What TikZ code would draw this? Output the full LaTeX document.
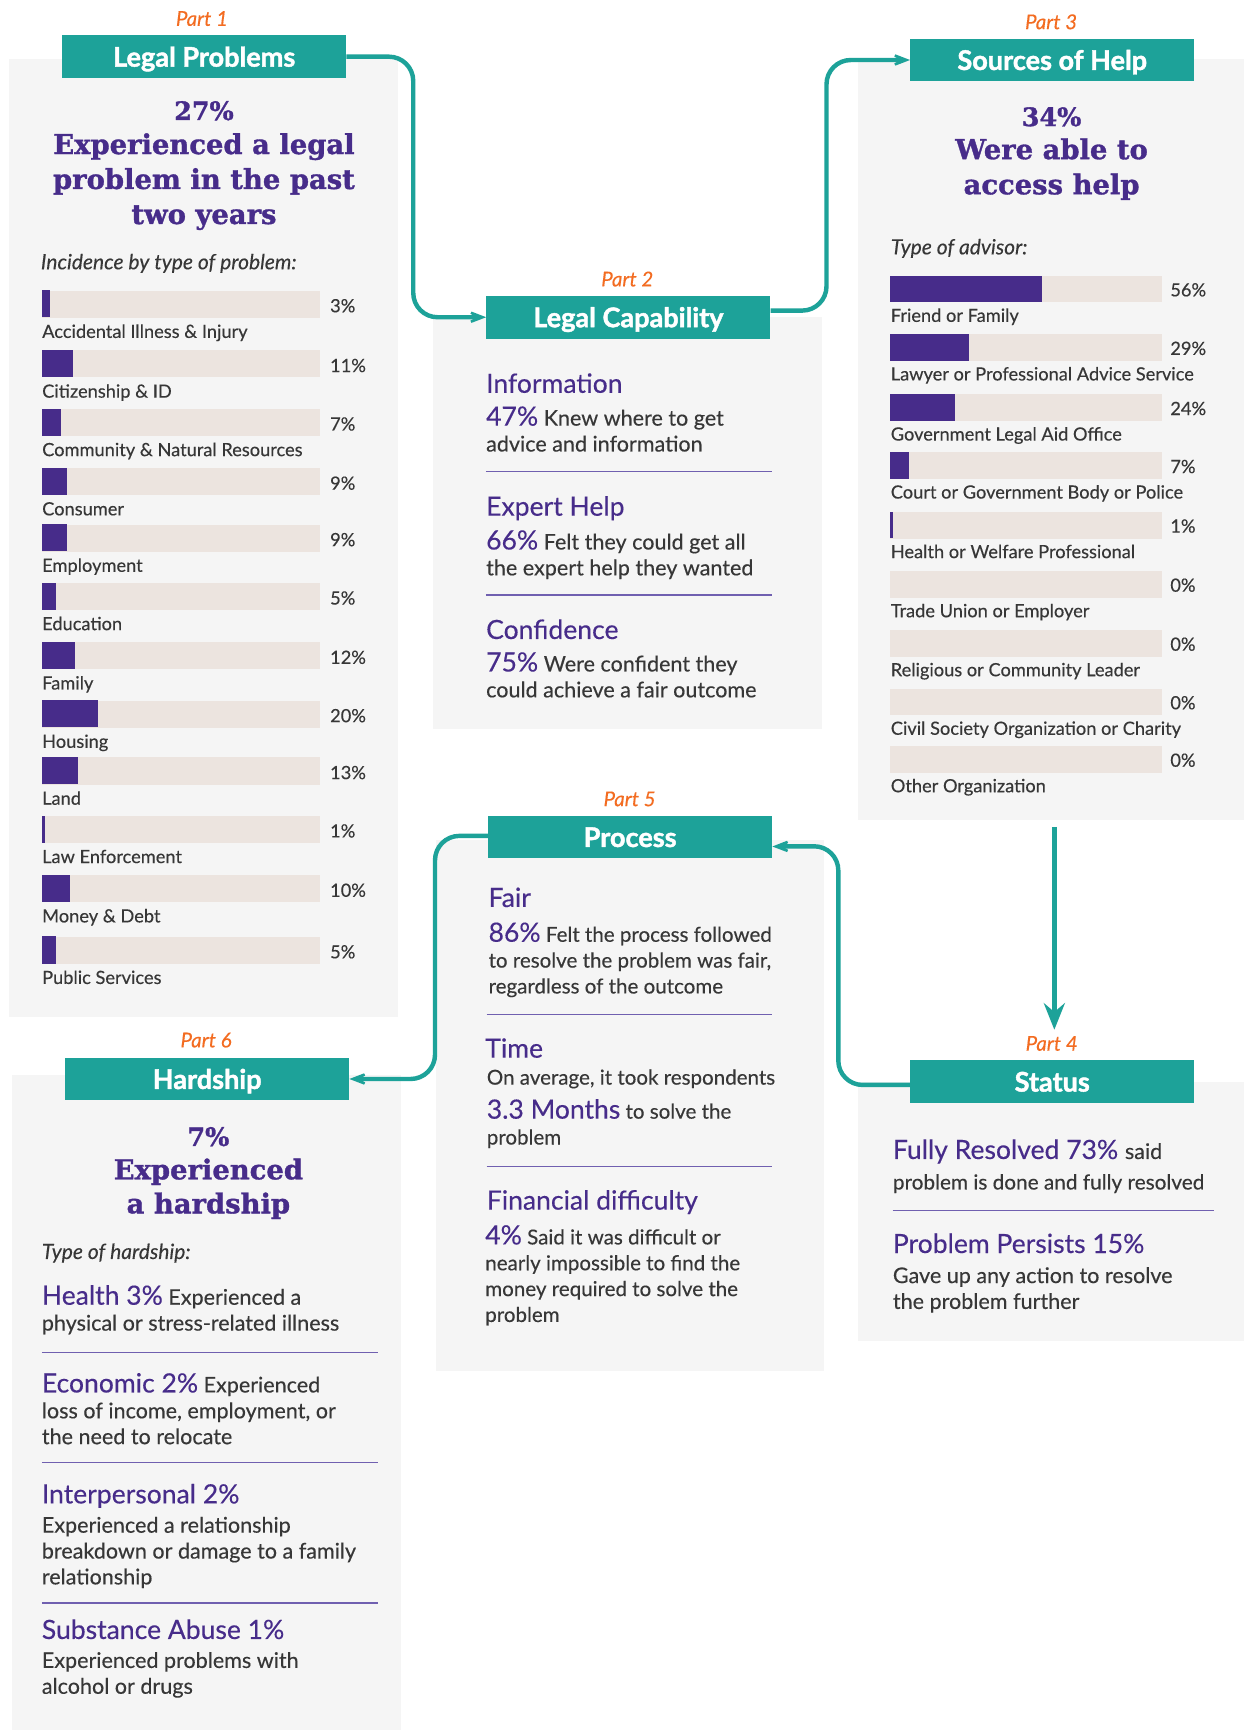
\documentclass[tikz,border=0pt]{standalone}
\usepackage{fontspec}
\setmainfont{Lato}[UprightFeatures={FakeBold=0.3},ItalicFeatures={FakeBold=0.2},BoldFeatures={FakeBold=1.6}]
\newfontfamily\slab{DejaVu Serif}[BoldFeatures={FakeBold=1.2}]
\usetikzlibrary{arrows.meta,calc}
\definecolor{cTeal}{RGB}{29,162,153}
\definecolor{cPurp}{RGB}{71,44,138}
\definecolor{cOrange}{RGB}{243,108,33}
\definecolor{cPanel}{RGB}{245,245,245}
\definecolor{cBar}{RGB}{236,228,223}
\definecolor{cDark}{RGB}{55,55,55}
\definecolor{cDiv}{RGB}{112,96,176}
\newcommand\pctx[1]{{\color{cPurp}\fontsize{24}{23.4}\selectfont #1}}
\newcommand\fstrut{\rule{0pt}{22pt}}
\begin{document}
\begin{tikzpicture}[x=1pt,y=-1pt,
  panel/.style={fill=cPanel, draw=none, anchor=north west, inner sep=0},
  hdr/.style={fill=cTeal, text=white, font=\fontsize{24.5}{24.5}\selectfont\bfseries, minimum width=257pt, minimum height=38.8pt, inner sep=0, text height=18pt, text depth=0pt, anchor=north west},
  partlbl/.style={text=cOrange, font=\fontsize{18.5}{18.5}\selectfont\itshape, inner sep=0, anchor=base},
  ttl/.style={text=cPurp, font=\slab\bfseries\fontsize{24.8}{24.8}\selectfont, inner sep=0, anchor=base},
  ttlp/.style={text=cPurp, font=\slab\bfseries\fontsize{23}{23}\selectfont, inner sep=0, anchor=base},
  sub/.style={text=cPurp, font=\fontsize{24}{24}\selectfont, inner sep=0, anchor=base west},
  body/.style={text=cDark, font=\fontsize{19.5}{23.4}\selectfont, inner sep=0, anchor=north west, align=left},
  bodys/.style={body, font=\fontsize{18.6}{23.4}\selectfont},
  oneline/.style={text=cDark, font=\fontsize{19.5}{19.5}\selectfont, inner sep=0, anchor=base west},
  lbl/.style={text=cDark, font=\fontsize{16.5}{16.5}\selectfont, inner sep=0, anchor=base west},
  ital/.style={text=cDark, font=\fontsize{19}{19}\selectfont\itshape, inner sep=0, anchor=base west},
  barbox/.style={fill=cBar, draw=none, inner sep=0, anchor=north west},
  divider/.style={draw=cDiv, line width=1.2pt},
  conn/.style={draw=cTeal, line width=4pt, rounded corners=22pt, -{Stealth[length=26pt,width=20pt,inset=17pt]}},
  downconn/.style={draw=cTeal, line width=4pt, -{Stealth[length=24pt,width=19pt,inset=8pt]}}
]
\useasboundingbox (0,0) rectangle (1125.8,1565.7);
\fill[white] (0,0) rectangle (1125.8,1565.7);

% panels
\node[panel, minimum width=351.8pt, minimum height=867pt] (p1) at (8.1,53.4) {};
\node[panel, minimum width=351.6pt, minimum height=373.5pt] (p2) at (392,286.3) {};
\node[panel, minimum width=349.3pt, minimum height=689pt] (p3) at (776.5,53) {};
\node[panel, minimum width=349.6pt, minimum height=234.6pt] (p4) at (776.2,979) {};
\node[panel, minimum width=351.1pt, minimum height=481pt] (p5) at (394.6,759.8) {};
\node[panel, minimum width=352pt, minimum height=592.7pt] (p6) at (10.9,973) {};

% headers
\node[hdr] (h1) at (56.1,31.7) {Legal Problems};
\node[hdr] (h2) at (440,267.5) {Legal Capability};
\node[hdr] (h3) at (823.6,34.7) {Sources of Help};
\node[hdr] (h4) at (823.6,959.3) {Status};
\node[hdr] (h5) at (441.6,737.9) {Process};
\node[hdr] (h6) at (58.8,956.9) {Hardship};

% part labels
\node[partlbl] (pt1) at ([xshift=-2pt,yshift=8.3pt]h1.north) {Part 1};
\node[partlbl] (pt2) at ([xshift=-1pt,yshift=8.3pt]h2.north) {Part 2};
\node[partlbl] (pt3) at ([xshift=-1pt,yshift=8.3pt]h3.north) {Part 3};
\node[partlbl] (pt4) at ([xshift=-0.5pt,yshift=8.4pt]h4.north) {Part 4};
\node[partlbl] (pt5) at ([xshift=-0.5pt,yshift=8.3pt]h5.north) {Part 5};
\node[partlbl] (pt6) at ([xshift=-1pt,yshift=9pt]h6.north) {Part 6};

% connectors
\coordinate (c1) at (374,0);
\coordinate (c2) at (748,0);
\coordinate (c5) at (393.7,0);
\coordinate (a3) at (954.2,748.4);
\coordinate (a3e) at (954.2,931.9);
\coordinate (c4) at (758.7,765.8);
\draw[conn] (h1.east) -| (h2.west -| c1) -- (h2.west);
\draw[conn] ([yshift=6pt]h2.east) -| (h3.west -| c2) -- (h3.west);
\draw[downconn] (a3) -- (a3e);
\draw[conn] ([yshift=-3pt]h4.west) -| (c4) -- ([yshift=-8.6pt]h5.east);
\draw[conn] ([yshift=1pt]h5.west) -| (h6.east -| c5) -- (h6.east);

% ---------- Part 1 ----------
\node[ttlp] (t1a) at (184.6,108.6) {27\%};
\node[ttl] (t1b) at (184.6,139.4) {Experienced a legal};
\node[ttl] (t1c) at (184.6,171) {problem in the past};
\node[ttl] (t1d) at (184.6,202.7) {two years};
\node[ital] (inc) at (36.8,243.7) {Incidence by type of problem:};
\foreach \yy/\p/\lab [count=\i] in {
  262.8/3/{Accidental Illness \& Injury},
  316.9/11/{Citizenship \& ID},
  369.8/7/{Community \& Natural Resources},
  423.4/9/{Consumer},
  474.5/9/{Employment},
  527.3/5/{Education},
  581/12/{Family},
  633.8/20/{Housing},
  685.3/13/{Land},
  738.1/1/{Law Enforcement},
  791.8/10/{Money \& Debt},
  847.5/5/{Public Services}} {
  \node[barbox, minimum width=251.6pt, minimum height=24.5pt] (lb\i) at (38,\yy) {};
  \fill[cPurp] (lb\i.north west) rectangle ++(\p*2.516,24.5);
  \node[lbl] (ll\i) at (38,\yy+43) {\lab};
  \node[lbl] (lp\i) at (298.6,\yy+19.8) {\p\%};
}

% ---------- Part 2 ----------
\node[sub] (i1h) at (439.8,355.5) {Information};
\node[body] (i1b) at (439.8,363) {\fstrut\pctx{47\%} Knew where to get\\advice and information};
\draw[divider] (439.8,427) -- (698.7,427);
\node[sub] (i2h) at (439.8,466.7) {Expert Help};
\node[body] (i2b) at (439.8,475.1) {\fstrut\pctx{66\%} Felt they could get all\\the expert help they wanted};
\draw[divider] (439.8,538.4) -- (698.7,538.4);
\node[sub] (i3h) at (439.8,578.3) {Confidence};
\node[body] (i3b) at (439.8,585.5) {\fstrut\pctx{75\%} Were confident they\\could achieve a fair outcome};

% ---------- Part 3 ----------
\node[ttlp] (t3a) at (951.7,114.1) {34\%};
\node[ttl] (t3b) at (951.7,144) {Were able to};
\node[ttl] (t3c) at (951.7,175.8) {access help};
\node[ital] (adv) at (806,230.2) {Type of advisor:};
\foreach \yy/\p/\lab [count=\i] in {
  249.4/56/{Friend or Family},
  302.4/29/{Lawyer or Professional Advice Service},
  356.8/24/{Government Legal Aid Office},
  409.3/7/{Court or Government Body or Police},
  463.2/1/{Health or Welfare Professional},
  516.7/0/{Trade Union or Employer},
  570.1/0/{Religious or Community Leader},
  623.1/0/{Civil Society Organization or Charity},
  675.1/0/{Other Organization}} {
  \node[barbox, minimum width=246.1pt, minimum height=24pt] (rb\i) at (805.5,\yy) {};
  \ifnum\p>0 \fill[cPurp] (rb\i.north west) rectangle ++(\p*2.461,24);\fi
  \node[lbl] (rl\i) at (806,\yy+41.9) {\lab};
  \node[lbl] (rp\i) at (1059,\yy+18.8) {\p\%};
}

% ---------- Part 4 ----------
\node[sub] (s1h) at (807.9,1048.9) {Fully Resolved 73\% {\color{cDark}\fontsize{19.5}{19.5}\selectfont said}};
\node[oneline, font=\fontsize{18.8}{18.8}\selectfont] (s1b) at (807.9,1076.5) {problem is done and fully resolved};
\draw[divider] (807.9,1095.3) -- (1098.7,1095.3);
\node[sub] (s2h) at (807.9,1134) {Problem Persists 15\%};
\node[body] (s2b) at (807.9,1139) {\fstrut Gave up any action to resolve\\the problem further};

% ---------- Part 5 ----------
\node[sub] (f1h) at (442,820.8) {Fair};
\node[bodys] (f1b) at (442,830.1) {\fstrut\pctx{86\%} Felt the process followed\\to resolve the problem was fair,\\regardless of the outcome};
\draw[divider] (440.4,918.2) -- (698.7,918.2);
\node[sub] (f2h) at (439,957.2) {Time};
\node[oneline, font=\fontsize{18.6}{18.6}\selectfont] (f2a) at (440.4,981.6) {On average, it took respondents};
\node[bodys] (f2b) at (440.4,990.2) {\fstrut\pctx{3.3 Months} to solve the\\problem};
\draw[divider] (440.4,1055.7) -- (698.7,1055.7);
\node[sub] (f3h) at (440.4,1094.7) {Financial difficulty};
\node[bodys] (f3b) at (439,1104) {\fstrut\pctx{4\%} Said it was difficult or\\nearly impossible to find the\\money required to solve the\\problem};

% ---------- Part 6 ----------
\node[ttlp] (t6a) at (188.6,1037.1) {7\%};
\node[ttl] (t6b) at (188.6,1067.3) {Experienced};
\node[ttl] (t6c) at (188.6,1098.1) {a hardship};
\node[ital] (hty) at (37.7,1139.4) {Type of hardship:};
\node[body] (g1) at (37.7,1158.6) {\fstrut\pctx{Health 3\%} Experienced a\\physical or stress-related illness};
\draw[divider] (38,1224.2) -- (341.8,1224.2);
\node[body] (g2) at (37.7,1238) {\fstrut\pctx{Economic 2\%} Experienced\\loss of income, employment, or\\the need to relocate};
\draw[divider] (38,1323.5) -- (341.8,1323.5);
\node[sub] (g3h) at (37.7,1360.6) {Interpersonal 2\%};
\node[body] (g3b) at (37.7,1364.9) {\fstrut Experienced a relationship\\breakdown or damage to a family\\relationship};
\draw[divider] (38,1450.7) -- (341.8,1450.7);
\node[sub] (g4h) at (37.7,1483.3) {Substance Abuse 1\%};
\node[body] (g4b) at (37.7,1487.3) {\fstrut Experienced problems with\\alcohol or drugs};
\end{tikzpicture}
\end{document}
